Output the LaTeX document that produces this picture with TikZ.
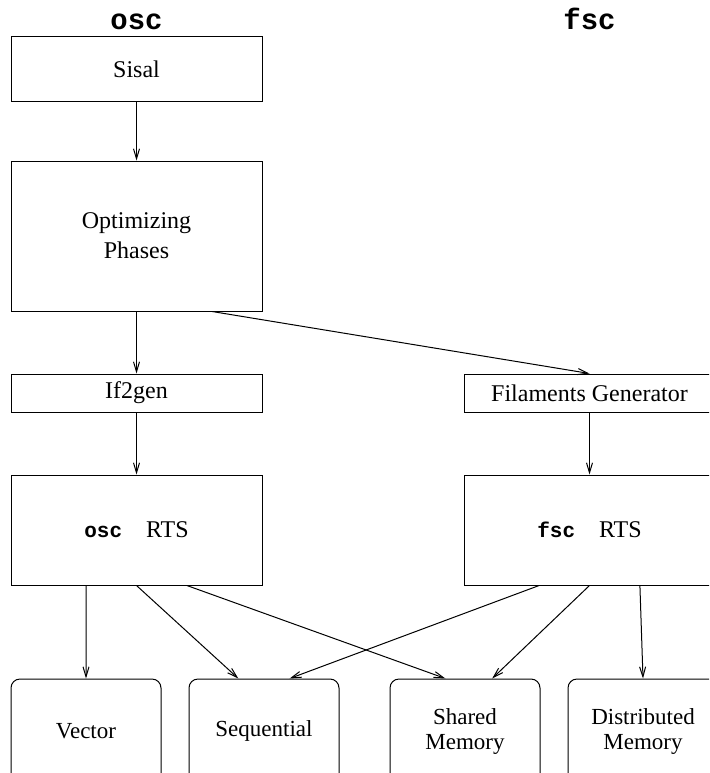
\documentclass[tikz,border=0pt]{standalone}
\usepackage{fontspec}
\setmainfont{Liberation Serif}
\setmonofont{Liberation Mono}
\usetikzlibrary{arrows.meta,positioning,calc}

\newcommand{\prog}[1]{{\fontsize{21}{24}\selectfont\ttfamily\bfseries #1}}

\begin{document}
\begin{tikzpicture}[
x=1pt, y=1pt,
stage/.style={
    draw,
    line width=1pt,
    minimum width=251pt,
    align=center,
    font=\fontsize{24}{30}\selectfont
    },
target/.style={
    draw,
    line width=1pt,
    rounded corners=9pt,
    minimum width=150pt,
    minimum height=104pt,
    align=center,
    font=\fontsize{23}{25}\selectfont
    },
title/.style={font=\fontsize{29}{30}\selectfont\ttfamily\bfseries, anchor=base},
link/.style={-{Straight Barb[length=10pt,width=6pt]}, line width=1pt},
node distance=60pt
]

\clip (0,0) rectangle (709,-773);

\node[stage, minimum height=65pt] (sisal) at (136.5,-69.5) {Sisal};
\node[stage, minimum height=150pt, below=58pt of sisal] (optim) {Optimizing\\Phases};
\node[stage, minimum height=38pt, below=62pt of optim] (if2gen) {If2gen};
\node[stage, minimum height=38pt, right=201pt of if2gen] (filgen) {Filaments Generator};
\node[stage, minimum height=110pt, below=62pt of if2gen] (oscrts) {\prog{osc}\quad RTS};
\node[stage, minimum height=110pt, below=62pt of filgen] (fscrts) {\prog{fsc}\quad RTS};

\node[title] (osctitle) at (sisal.north |- 0,-30) {osc};
\node[title] (fsctitle) at (filgen.north |- osctitle.base) {fsc};

\node[target, below=93pt of oscrts.south west, anchor=north west] (vector) {Vector};
\node[target, right=27pt of vector] (sequential) {Sequential};
\node[target, right=50pt of sequential] (shared) {Shared\\Memory};
\node[target, right=27pt of shared] (distributed) {Distributed\\Memory};

\draw[link] (sisal) -- (optim);
\draw[link] (optim) -- (if2gen);
\draw[link] ($(optim.south west)!0.8!(optim.south east)$) -- (filgen.north);
\draw[link] (if2gen) -- (oscrts);
\draw[link] (filgen) -- (fscrts);

% osc run time targets
\draw[link] ($(oscrts.south west)!0.3!(oscrts.south east)$) -- (vector.north);
\draw[link] (oscrts.south) -- ($(sequential.north west)!0.33!(sequential.north east)$);
\draw[link] ($(oscrts.south west)!0.7!(oscrts.south east)$) -- ($(shared.north west)!0.37!(shared.north east)$);

% fsc run time targets
\draw[link] ($(fscrts.south west)!0.3!(fscrts.south east)$) -- ($(sequential.north west)!0.67!(sequential.north east)$);
\draw[link] (fscrts.south) -- ($(shared.north west)!0.68!(shared.north east)$);
\draw[link] ($(fscrts.south west)!0.7!(fscrts.south east)$) -- (distributed.north);

\end{tikzpicture}
\end{document}
